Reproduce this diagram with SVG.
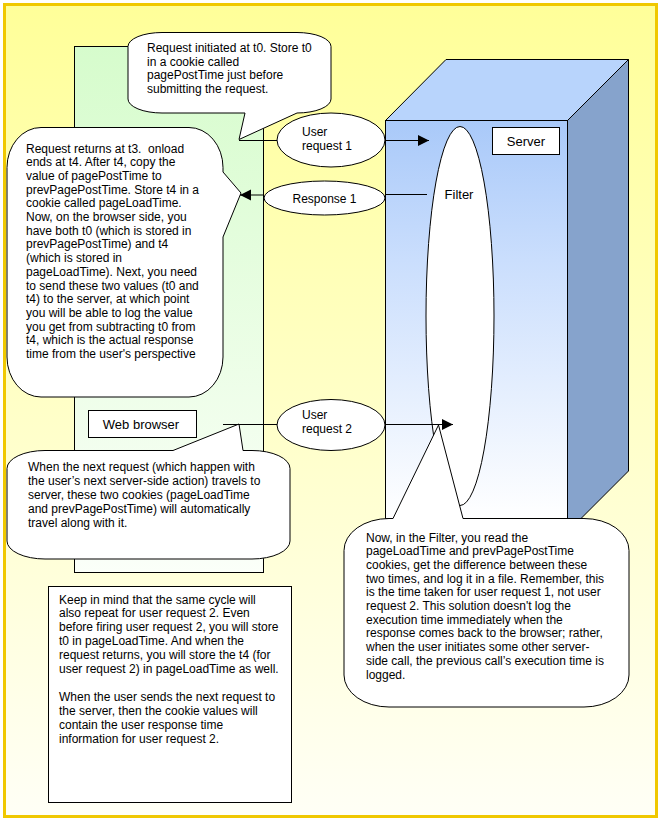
<svg xmlns="http://www.w3.org/2000/svg" width="659" height="819" viewBox="0 0 659 819">
<defs>
<linearGradient id="bg" x1="0" y1="0" x2="0" y2="1">
<stop offset="0" stop-color="#ffff99"/>
<stop offset="0.5" stop-color="#ffffc8"/>
<stop offset="1" stop-color="#fffff6"/>
</linearGradient>
<linearGradient id="green" x1="0" y1="0" x2="0" y2="1">
<stop offset="0" stop-color="#d6fccc"/>
<stop offset="1" stop-color="#fbfff9"/>
</linearGradient>
<linearGradient id="front" x1="0" y1="0" x2="0" y2="1">
<stop offset="0" stop-color="#a9c9f9"/>
<stop offset="0.35" stop-color="#cadefd"/>
<stop offset="1" stop-color="#ffffff"/>
</linearGradient>
<marker id="arr" markerUnits="userSpaceOnUse" markerWidth="12" markerHeight="12" refX="11" refY="5.5" orient="auto">
<path d="M0,0 L11,5.5 L0,11 Z" fill="#000"/>
</marker>
<style>
.t{font-family:"Liberation Sans",Arial,sans-serif;font-size:12px;fill:#000}
.l{font-family:"Liberation Sans",Arial,sans-serif;font-size:13px;fill:#000}
.s{stroke:#000;stroke-width:1}
.b{fill:#fff;stroke:#000;stroke-width:1}
.c{stroke:#000;stroke-width:1;fill:none}
.pre{white-space:pre}
</style>
</defs>
<rect x="4.5" y="4.5" width="652" height="812" fill="url(#bg)" stroke="#f0c800" stroke-width="3"/>

<g id="browser">
<rect x="74.5" y="46.5" width="189" height="526" fill="url(#green)" class="s"/>
</g>

<g id="server">
<polygon points="385.5,120.5 446,59.5 628.5,59.5 567.5,120.5" fill="#b8d4fc" class="s"/>
<polygon points="567.5,120.5 628.5,59.5 628.5,471 567.5,532" fill="#86a3cc" class="s"/>
<rect x="385.5" y="120.5" width="182" height="398" fill="url(#front)" class="s"/>
<rect x="492.5" y="127.5" width="67" height="27" class="b"/>
<text class="l" x="526" y="146" text-anchor="middle">Server</text>
</g>

<g id="filter">
<ellipse cx="460" cy="316" rx="34" ry="189.5" class="b"/>
<text class="l" x="459" y="199" text-anchor="middle">Filter</text>
</g>

<g id="webbrowser">
<rect x="88.5" y="410.5" width="108" height="27" class="b"/>
<text class="l" x="141" y="428.5" text-anchor="middle">Web browser</text>
</g>

<g id="req1">
<ellipse cx="331" cy="140" rx="54" ry="27" class="b"/>
<text class="t" x="302" y="136">User</text>
<text class="t" x="302" y="150">request 1</text>
</g>

<g id="resp1">
<ellipse cx="324.5" cy="198" rx="60.5" ry="17" class="b"/>
<text class="t" x="324.5" y="202.5" text-anchor="middle">Response 1</text>
</g>

<g id="req2">
<ellipse cx="331" cy="425" rx="54" ry="25.5" class="b"/>
<text class="t" x="302" y="419">User</text>
<text class="t" x="302" y="433">request 2</text>
</g>

<g id="callout1">
<path class="b" d="M162,32.5 H297 A34,14 0 0 1 331,46.5 V99 A34,14 0 0 1 297,113 L239,139.5 L245,113 H162 A34,14 0 0 1 128,99 V46.5 A34,14 0 0 1 162,32.5 Z"/>
<text class="t" x="147" y="52">Request initiated at t0. Store t0</text>
<text class="t" x="147" y="65.7">in a cookie called</text>
<text class="t" x="147" y="79.4">pagePostTime just before</text>
<text class="t" x="147" y="93">submitting the request.</text>
</g>

<g id="callout2">
<path class="b" d="M41,127.5 H189 A34,40 0 0 1 223,167.5 V172 L241,193 L223,237 V357 A34,40 0 0 1 189,397 H41 A34,40 0 0 1 7,357 V167.5 A34,40 0 0 1 41,127.5 Z"/>
<g class="t">
<text class="pre" x="26" y="152.5">Request returns at t3.  onload</text>
<text x="26" y="166.2">ends at t4. After t4, copy the</text>
<text x="26" y="179.9">value of pagePostTime to</text>
<text x="26" y="193.6">prevPagePostTime. Store t4 in a</text>
<text x="26" y="207.3">cookie called pageLoadTime.</text>
<text x="26" y="221">Now, on the browser side, you</text>
<text x="26" y="234.7">have both t0 (which is stored in</text>
<text x="26" y="248.4">prevPagePostTime) and t4</text>
<text x="26" y="262.1">(which is stored in</text>
<text x="26" y="275.8">pageLoadTime). Next, you need</text>
<text x="26" y="289.5">to send these two values (t0 and</text>
<text x="26" y="303.2">t4) to the server, at which point</text>
<text x="26" y="316.9">you will be able to log the value</text>
<text x="26" y="330.6">you get from subtracting t0 from</text>
<text x="26" y="344.3">t4, which is the actual response</text>
<text x="26" y="358">time from the user's perspective</text>
</g>
</g>

<g id="callout3">
<path class="b" d="M45,450.5 H173 L239,424 L243,450.5 H252 A38,18 0 0 1 290,468.5 V541 A38,18 0 0 1 252,559 H45 A38,18 0 0 1 7,541 V468.5 A38,18 0 0 1 45,450.5 Z"/>
<g class="t">
<text x="28" y="471">When the next request (which happen with</text>
<text x="28" y="485">the user’s next server-side action) travels to</text>
<text x="28" y="499">server, these two cookies (pageLoadTime</text>
<text x="28" y="513">and prevPagePostTime) will automatically</text>
<text x="28" y="527">travel along with it.</text>
</g>
</g>

<g id="callout4">
<path class="b" d="M389,518.5 H393 L438.5,425 L463,518.5 H584 A45,32 0 0 1 629,550.5 V675 A45,32 0 0 1 584,707 H389 A45,32 0 0 1 344,675 V550.5 A45,32 0 0 1 389,518.5 Z"/>
<g class="t">
<text x="366" y="541.5">Now, in the Filter, you read the</text>
<text x="366" y="555.2">pageLoadTime and prevPagePostTime</text>
<text x="366" y="568.9">cookies, get the difference between these</text>
<text x="366" y="582.6">two times, and log it in a file. Remember, this</text>
<text x="366" y="596.3">is the time taken for user request 1, not user</text>
<text x="366" y="610">request 2. This solution doesn't log the</text>
<text x="366" y="623.7">execution time immediately when the</text>
<text x="366" y="637.4">response comes back to the browser; rather,</text>
<text x="366" y="651.1">when the user initiates some other server-</text>
<text x="366" y="664.8">side call, the previous call’s execution time is</text>
<text x="366" y="678.5">logged.</text>
</g>
</g>

<g id="note">
<rect x="48.5" y="586.5" width="243" height="216" fill="#fff" class="s"/>
<g class="t">
<text x="59" y="603.5">Keep in mind that the same cycle will</text>
<text x="59" y="617.4">also repeat for user request 2. Even</text>
<text x="59" y="631.3">before firing user request 2, you will store</text>
<text x="59" y="645.2">t0 in pageLoadTime. And when the</text>
<text x="59" y="659.1">request returns, you will store the t4 (for</text>
<text x="59" y="673">user request 2) in pageLoadTime as well.</text>
<text x="59" y="701">When the user sends the next request to</text>
<text x="59" y="714.9">the server, then the cookie values will</text>
<text x="59" y="728.8">contain the user response time</text>
<text x="59" y="742.7">information for user request 2.</text>
</g>
</g>

<g id="connectors">
<line class="c" x1="239" y1="140.5" x2="277" y2="140.5"/>
<line class="c" x1="385" y1="140.5" x2="429" y2="140.5" marker-end="url(#arr)"/>
<line class="c" x1="427" y1="194.5" x2="385" y2="194.5"/>
<line class="c" x1="264" y1="195" x2="240" y2="195" marker-end="url(#arr)"/>
<line class="c" x1="223" y1="424.5" x2="277" y2="424.5"/>
<line class="c" x1="385" y1="424.5" x2="453" y2="424.5" marker-end="url(#arr)"/>
</g>
</svg>
